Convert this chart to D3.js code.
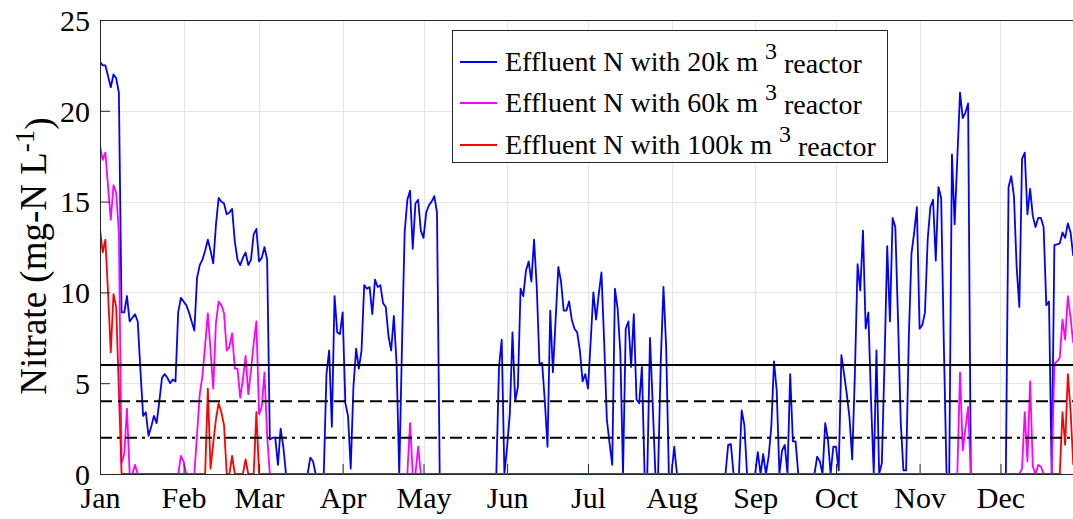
<!DOCTYPE html>
<html>
<head>
<meta charset="utf-8">
<script src="https://cdn.jsdelivr.net/npm/d3@7"></script>
<style>
  html, body { margin: 0; padding: 0; background: #ffffff; }
  svg { display: block; font-family: "Liberation Serif", "Times New Roman", serif; }
</style>
</head>
<body>
<svg id="chart" width="1073" height="519"></svg>
<script>
// ---- data: daily effluent nitrate (mg-N/L), one value per day from 1 Jan ----
const year = 2019;
const monthLabels = ["Jan", "Feb", "Mar", "Apr", "May", "Jun", "Jul", "Aug", "Sep", "Oct", "Nov", "Dec"];
const yTickValues = [0, 5, 10, 15, 20, 25];
const limitValues = [6, 4, 2];
const limitDashes = [null, "12,6", "12,5,3,5"];
const seriesLabels = ["Effluent N with 20k m", "Effluent N with 60k m", "Effluent N with 100k m"];
const seriesColors = ["#0000ff", "#ff00ff", "#ff0000"];

const effluent20k = [
  /* Jan */ 22.7, 22.5, 22.5, 21.9, 21.3, 22.0, 21.8, 21.0, 8.9, 8.9, 9.8, 8.4, 8.6, 8.8, 8.4, 5.7, 3.2, 3.4, 2.1, 2.6, 3.2, 2.8, 4.0, 5.3, 5.5, 5.3, 5.0, 5.2, 5.1, 8.9, 9.7,
  /* Feb */ 9.5, 9.3, 8.9, 8.4, 7.9, 10.8, 11.5, 11.8, 12.3, 12.9, 12.3, 11.6, 13.7, 15.2, 15.0, 14.9, 14.3, 14.4, 14.6, 12.8, 11.8, 11.5, 11.9, 12.2, 11.5, 11.8, 13.2, 13.5,
  /* Mar */ 11.7, 11.9, 12.5, 11.8, 1.9, 2.0, 2.0, 0.5, 2.5, 1.5, 0, 0, 0, 0, 0, 0, 0, 0, 0, 0.9, 0.7, 0, 0, 0, 0, 5.5, 6.8, 2.6, 9.8, 7.8, 7.7,
  /* Apr */ 8.9, 3.9, 3.2, 0.3, 4.8, 6.9, 5.8, 6.8, 10.4, 10.2, 10.3, 8.8, 10.7, 10.3, 10.4, 9.4, 9.2, 7.6, 6.8, 8.7, 6.1, 0, 7.0, 13.3, 15.1, 15.6, 12.4, 14.9, 15.1, 13.4,
  /* May */ 13.0, 14.4, 14.8, 15.0, 15.3, 14.4, 0, 0, 0, 0, 0, 0, 0, 0, 0, 0, 0, 0, 0, 0, 0, 0, 0, 0, 0, 0, 0, 0, 5.9, 7.4, 0,
  /* Jun */ 1.5, 3.3, 7.8, 4.0, 4.8, 10.2, 9.8, 11.2, 11.7, 10.6, 12.9, 10.3, 6.1, 6.1, 4.0, 1.5, 9.0, 5.6, 8.5, 11.4, 10.6, 9.0, 9.0, 9.5, 8.5, 8.0, 7.8, 6.8, 5.1, 5.5,
  /* Jul */ 4.7, 7.3, 10.0, 8.5, 9.9, 11.1, 7.3, 3.0, 1.7, 0.5, 10.2, 9.1, 6.7, 0, 8.0, 8.4, 5.9, 8.8, 4.1, 3.9, 5.9, 0, 0, 7.5, 3.9, 0, 0, 6.2, 10.3, 7.0, 0,
  /* Aug */ 0, 1.5, 0, 0, 0, 0, 0, 0, 0, 0, 0, 0, 0, 0, 0, 0, 0, 0, 0, 0, 0, 1.6, 1.65, 0, 0, 0, 3.5, 2.7, 0, 0, 0,
  /* Sep */ 0, 1.2, 0, 1.1, 0, 0.95, 2.6, 6.2, 4.6, 0, 1.3, 1.6, 0, 5.5, 1.8, 1.8, 0, 0, 0, 0, 0, 0, 0, 0.95, 0.7, 0, 2.8, 1.9, 0, 1.5,
  /* Oct */ 1.5, 0.2, 6.55, 5.5, 4.4, 3.1, 0.8, 5.5, 11.55, 10.1, 13.4, 8.0, 8.9, 4.0, 0, 6.8, 0, 0.6, 6.2, 12.55, 8.4, 14.1, 13.6, 8.5, 2.9, 0.2, 0.2, 7.5, 12.15, 13.3, 14.7,
  /* Nov */ 8.0, 8.2, 8.9, 12.9, 14.7, 15.1, 11.75, 15.8, 15.2, 7.1, 0, 0, 17.6, 13.75, 17.4, 21.0, 19.6, 19.9, 20.4, 0, 0, 0, 0, 0, 0, 0, 0, 0, 0, 0,
  /* Dec */ 0, 0, 0, 15.8, 16.4, 15.3, 11.4, 9.2, 17.35, 17.7, 14.3, 15.7, 14.2, 13.6, 14.1, 14.1, 13.6, 9.3, 9.5, 0, 12.6, 12.65, 12.7, 13.3, 13.0, 13.8, 13.3, 12.0
];

const effluent60k = [
  /* Jan */ 18.1, 17.3, 17.7, 15.8, 14.0, 15.9, 15.5, 13.3, 0.6, 1.1, 3.6, 0, 0, 0.5, 0, 0, 0, 0, 0, 0, 0, 0, 0, 0, 0, 0, 0, 0, 0, 0, 1.0,
  /* Feb */ 0.7, 0, 0, 0, 0, 2.2, 4.4, 5.4, 7.1, 8.85, 6.8, 4.7, 8.3, 9.5, 9.3, 8.85, 6.8, 7.0, 7.75, 5.8, 5.8, 4.2, 5.2, 6.5, 4.4, 5.7, 7.2, 8.4,
  /* Mar */ 3.3, 3.7, 5.6, 2.1, 0, 0, 0, 0, 0, 0, 0, 0, 0, 0, 0, 0, 0, 0, 0, 0, 0, 0, 0, 0, 0, 0, 0, 0, 0, 0, 0,
  /* Apr */ 0, 0, 0, 0, 0, 0, 0, 0, 0, 0, 0, 0, 0, 0, 0, 0, 0, 0, 0, 0, 0, 0, 0, 0, 0, 2.8, 0, 0, 1.5, 0,
  /* May */ 0, 0, 0, 0, 0, 0, 0, 0, 0, 0, 0, 0, 0, 0, 0, 0, 0, 0, 0, 0, 0, 0, 0, 0, 0, 0, 0, 0, 0, 0, 0,
  /* Jun */ 0, 0, 0, 0, 0, 0, 0, 0, 0, 0, 0, 0, 0, 0, 0, 0, 0, 0, 0, 0, 0, 0, 0, 0, 0, 0, 0, 0, 0, 0,
  /* Jul */ 0, 0, 0, 0, 0, 0, 0, 0, 0, 0, 0, 0, 0, 0, 0, 0, 0, 0, 0, 0, 0, 0, 0, 0, 0, 0, 0, 0, 0, 0, 0,
  /* Aug */ 0, 0, 0, 0, 0, 0, 0, 0, 0, 0, 0, 0, 0, 0, 0, 0, 0, 0, 0, 0, 0, 0, 0, 0, 0, 0, 0, 0, 0, 0, 0,
  /* Sep */ 0, 0, 0, 0, 0, 0, 0, 0, 0, 0, 0, 0, 0, 0, 0, 0, 0, 0, 0, 0, 0, 0, 0, 0, 0, 0, 0, 0, 0, 0,
  /* Oct */ 0, 0, 0, 0, 0, 0, 0, 0, 0, 0, 0, 0, 0, 0, 0, 0, 0, 0, 0, 0, 0, 0, 0, 0, 0, 0, 0, 0, 0, 0, 0,
  /* Nov */ 0, 0, 0, 0, 0, 0, 0, 0, 0, 0, 0, 0, 0, 0, 0, 5.6, 1.3, 2.5, 3.7, 0, 0, 0, 0, 0, 0, 0, 0, 0, 0, 0,
  /* Dec */ 0, 0, 0, 0, 0, 0, 0, 0, 0.3, 3.4, 0.7, 5.1, 0.4, 0, 0.5, 0.4, 0, 0, 0, 0, 6.1, 6.2, 6.4, 8.5, 7.4, 9.8, 8.6, 7.2
];

const effluent100k = [
  /* Jan */ 13.5, 12.2, 12.9, 9.9, 6.7, 9.9, 9.2, 4.6, 0, 0, 0, 0, 0, 0, 0, 0, 0, 0, 0, 0, 0, 0, 0, 0, 0, 0, 0, 0, 0, 0, 0,
  /* Feb */ 0, 0, 0, 0, 0, 0, 0, 0, 0, 4.7, 0.3, 1.7, 3.0, 3.9, 3.4, 2.7, 0, 0, 1.0, 0, 0, 0, 0, 0.8, 0, 0, 0, 3.4,
  /* Mar */ 0, 0, 0, 0, 0, 0, 0, 0, 0, 0, 0, 0, 0, 0, 0, 0, 0, 0, 0, 0, 0, 0, 0, 0, 0, 0, 0, 0, 0, 0, 0,
  /* Apr */ 0, 0, 0, 0, 0, 0, 0, 0, 0, 0, 0, 0, 0, 0, 0, 0, 0, 0, 0, 0, 0, 0, 0, 0, 0, 0, 0, 0, 0, 0,
  /* May */ 0, 0, 0, 0, 0, 0, 0, 0, 0, 0, 0, 0, 0, 0, 0, 0, 0, 0, 0, 0, 0, 0, 0, 0, 0, 0, 0, 0, 0, 0, 0,
  /* Jun */ 0, 0, 0, 0, 0, 0, 0, 0, 0, 0, 0, 0, 0, 0, 0, 0, 0, 0, 0, 0, 0, 0, 0, 0, 0, 0, 0, 0, 0, 0,
  /* Jul */ 0, 0, 0, 0, 0, 0, 0, 0, 0, 0, 0, 0, 0, 0, 0, 0, 0, 0, 0, 0, 0, 0, 0, 0, 0, 0, 0, 0, 0, 0, 0,
  /* Aug */ 0, 0, 0, 0, 0, 0, 0, 0, 0, 0, 0, 0, 0, 0, 0, 0, 0, 0, 0, 0, 0, 0, 0, 0, 0, 0, 0, 0, 0, 0, 0,
  /* Sep */ 0, 0, 0, 0, 0, 0, 0, 0, 0, 0, 0, 0, 0, 0, 0, 0, 0, 0, 0, 0, 0, 0, 0, 0, 0, 0, 0, 0, 0, 0,
  /* Oct */ 0, 0, 0, 0, 0, 0, 0, 0, 0, 0, 0, 0, 0, 0, 0, 0, 0, 0, 0, 0, 0, 0, 0, 0, 0, 0, 0, 0, 0, 0, 0,
  /* Nov */ 0, 0, 0, 0, 0, 0, 0, 0, 0, 0, 0, 0, 0, 0, 0, 0, 0, 0, 0, 0, 0, 0, 0, 0, 0, 0, 0, 0, 0, 0,
  /* Dec */ 0, 0, 0, 0, 0, 0, 0, 0, 0, 0, 0, 0, 0, 0, 0, 0, 0, 0, 0, 0, 0, 0, 0, 3.4, 1.6, 5.5, 3.5, 0.5
];

// ---- layout ----
const plot = { left: 100, top: 20, bottom: 474, pxPerDay: 2.696 };
const start = new Date(year, 0, 1);
const end = new Date(year + 1, 0, 1);

const svg = d3.select("#chart");

const x = d3.scaleTime()
  .domain([start, end])
  .range([plot.left, plot.left + 365 * plot.pxPerDay]);
const y = d3.scaleLinear().domain([0, 25]).range([plot.bottom, plot.top]);

const monthStarts = d3.timeMonth.range(start, end);

svg.append("defs").append("clipPath").attr("id", "plot-clip")
  .append("rect")
  .attr("x", plot.left).attr("y", 0)
  .attr("width", x.range()[1] - plot.left).attr("height", 519);

// grid
const grid = svg.append("g").attr("stroke", "#e6e6e6").attr("stroke-width", 1);
grid.selectAll("line.gx").data(monthStarts.slice(1)).join("line")
  .attr("x1", d => Math.round(x(d)) + 0.5).attr("x2", d => Math.round(x(d)) + 0.5)
  .attr("y1", plot.top).attr("y2", plot.bottom);
grid.selectAll("line.gy").data(yTickValues.slice(1)).join("line")
  .attr("x1", plot.left).attr("x2", 1073)
  .attr("y1", d => Math.round(y(d)) + 0.5).attr("y2", d => Math.round(y(d)) + 0.5);

// series
const series = [effluent20k, effluent60k, effluent100k];
const line = d3.line()
  .x((d, i) => x(d3.timeDay.offset(start, i)))
  .y(d => y(d));

const lines = svg.append("g").attr("clip-path", "url(#plot-clip)");
series.forEach((vals, k) => {
  lines.append("path")
    .datum(vals)
    .attr("fill", "none")
    .attr("stroke", seriesColors[k])
    .attr("stroke-width", 1.8)
    .attr("stroke-linejoin", "round")
    .attr("d", line);
});

// limit lines at 6, 4 and 2 mg-N/L
const limits = svg.append("g");
limitValues.forEach((v, k) => {
  limits.append("line")
    .attr("x1", plot.left).attr("x2", 1073)
    .attr("y1", y(v)).attr("y2", y(v))
    .attr("stroke", "#000")
    .attr("stroke-width", 2)
    .attr("stroke-dasharray", limitDashes[k]);
});

// axes
const axisColor = "#262626";
const yAxis = d3.axisLeft(y).tickValues(yTickValues).tickSize(-10).tickPadding(10).tickFormat(d3.format("d"));
const gy = svg.append("g").attr("transform", `translate(${plot.left},0)`).call(yAxis);
const xAxis = d3.axisBottom(x).tickValues(monthStarts).tickSize(-10).tickPadding(13)
  .tickFormat((d, i) => monthLabels[i]);
const gx = svg.append("g").attr("transform", `translate(0,${plot.bottom})`).call(xAxis);

[gx, gy].forEach(g => {
  g.select(".domain").attr("stroke", axisColor).attr("stroke-width", 1);
  g.selectAll(".tick line").attr("stroke", axisColor);
  g.selectAll(".tick text")
    .attr("fill", "#000")
    .style("font-family", "'Liberation Serif', 'Times New Roman', serif")
    .style("font-size", "30px");
});
gy.selectAll(".tick text").attr("dy", "0.34em");
gx.selectAll(".tick text").attr("dy", "0.71em");

// top edge of the axes box
svg.append("line")
  .attr("x1", plot.left).attr("x2", 1073)
  .attr("y1", plot.top + 0.5).attr("y2", plot.top + 0.5)
  .attr("stroke", axisColor).attr("stroke-width", 1);

// y label with superscript
const ylab = svg.append("text")
  .attr("transform", `translate(46,256) rotate(-90)`)
  .attr("text-anchor", "middle")
  .style("font-size", "37px")
  .attr("fill", "#000");
ylab.append("tspan").text("Nitrate (mg-N L");
ylab.append("tspan").attr("dy", "-0.45em").style("font-size", "27px").text("-1");
ylab.append("tspan").attr("dy", "0.45em").text(")");

// legend
const legend = svg.append("g");
legend.append("rect")
  .attr("x", 452.5).attr("y", 30.5).attr("width", 435).attr("height", 132)
  .attr("fill", "#fff").attr("stroke", axisColor).attr("stroke-width", 1);
const rowY = [62, 103, 145];
seriesLabels.forEach((lab, k) => {
  legend.append("line")
    .attr("x1", 460).attr("x2", 497)
    .attr("y1", rowY[k]).attr("y2", rowY[k])
    .attr("stroke", seriesColors[k]).attr("stroke-width", 1.8);
  const t = legend.append("text")
    .attr("x", 505).attr("y", rowY[k] + 9)
    .style("font-size", "28px").attr("fill", "#000");
  t.append("tspan").text(lab + " ");
  t.append("tspan").attr("dy", "-0.5em").style("font-size", "24px").text("3");
  t.append("tspan").attr("dy", "0.5em").text(" reactor");
});
</script>
</body>
</html>
